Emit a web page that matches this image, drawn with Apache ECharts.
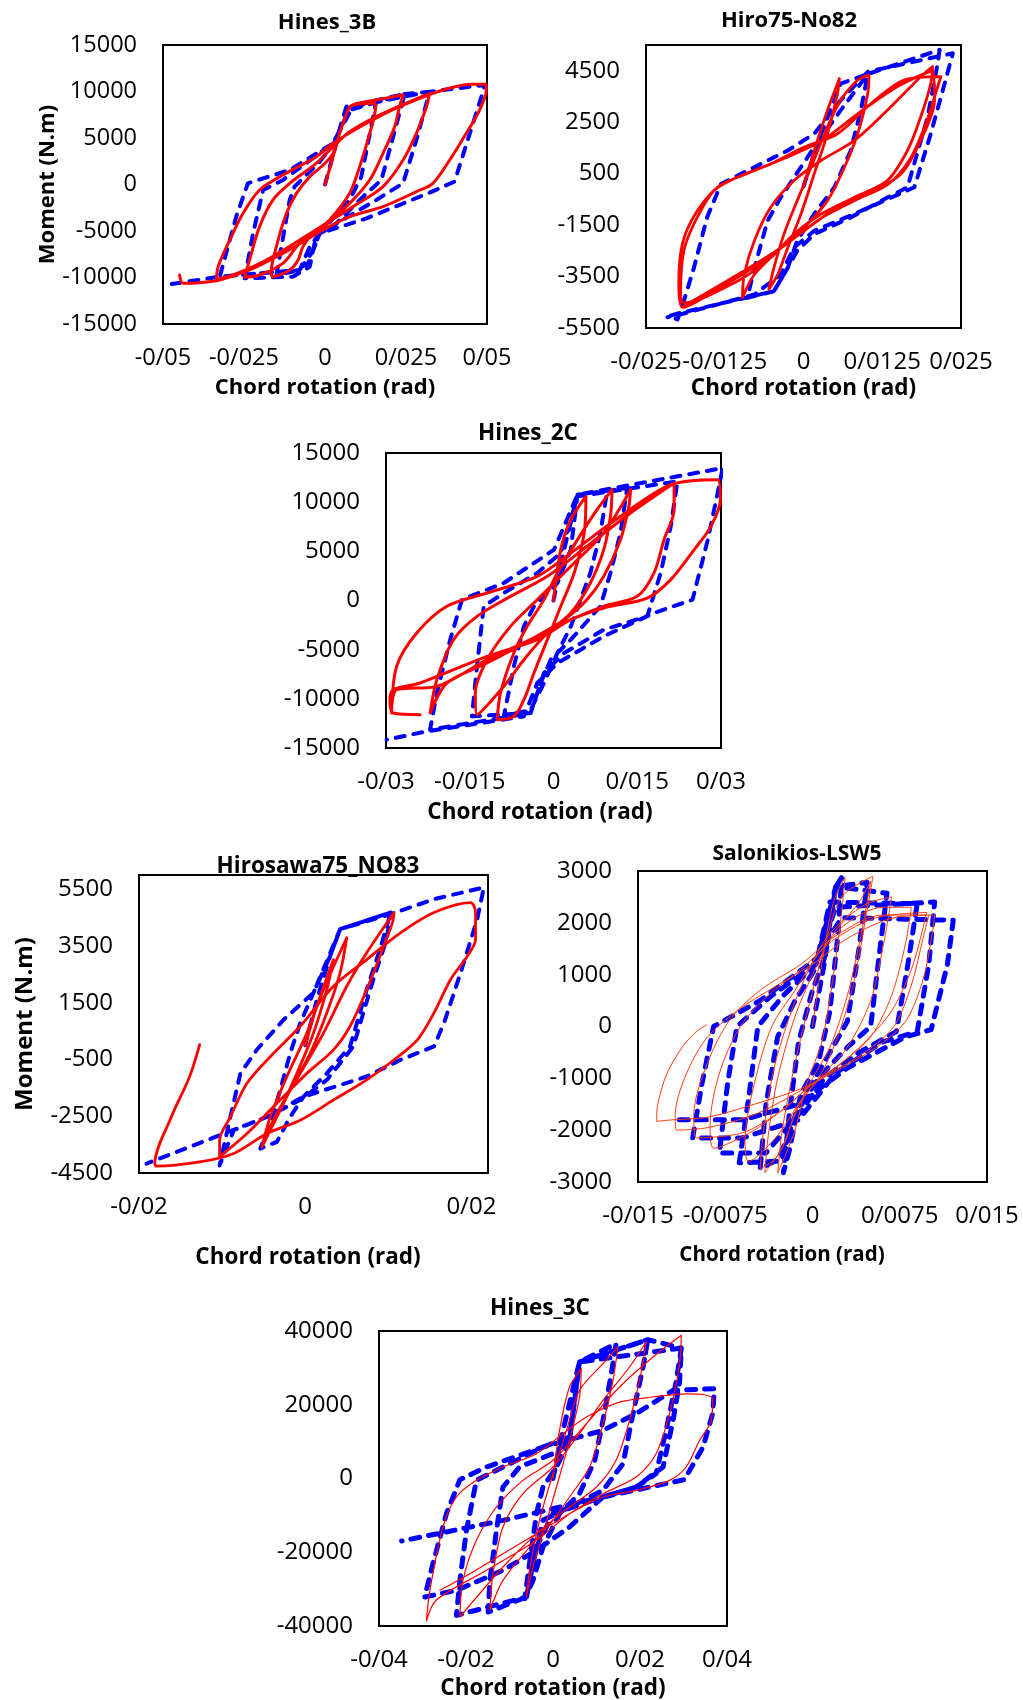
<!DOCTYPE html>
<html><head><meta charset="utf-8">
<script src="https://cdn.jsdelivr.net/npm/echarts@6/dist/echarts.min.js"></script>
<style>html,body{margin:0;padding:0;background:#fff}#c{width:1023px;height:1700px}</style>
</head><body><div id="c"></div>
<script>
const FONT = 'Open Sans';
const xAxisTitle = 'Chord rotation (rad)';
const yAxisTitle = 'Moment (N.m)';
const titles = ['Hines_3B', 'Hiro75-No82', 'Hines_2C', 'Hirosawa75_NO83', 'Salonikios-LSW5', 'Hines_3C'];

// axis ranges [min, max, interval]
const xRanges = [[-0.05, 0.05, 0.025], [-0.025, 0.025, 0.0125], [-0.03, 0.03, 0.015], [-0.02, 0.022, 0.02], [-0.015, 0.015, 0.0075], [-0.04, 0.04, 0.02]];
const yRanges = [[-15000, 15000, 5000], [-5500, 5500, 2000], [-15000, 15000, 5000], [-4500, 6000, 2000], [-3000, 3000, 1000], [-40000, 40000, 20000]];

// ---------- Hines_3B ----------
const hines3B_model = [
[0,0],[0.0066,8370],[0.0158,8900],[0.0112,840],[0.0076,-1670],[-0.0016,-5250],[-0.0052,-8480],[-0.0099,-9370],[-0.0150,-9730],[-0.0109,-1670],[-0.0094,-230],[-0.0016,2460],[0.0035,4790],[0.0066,8370],
[0.0246,9730],[0.0174,480],[0.0128,-950],[0.0025,-4530],[-0.0027,-5430],[-0.0047,-8840],[-0.0099,-9910],[-0.0248,-10090],[-0.0222,-5250],[-0.0191,-590],[-0.0130,480],[0.0025,4430],[0.0076,8010],[0.0246,9730],
[0.0323,9980],[0.0282,4790],[0.0241,130],[0.0158,-1670],[-0.0016,-5250],[-0.0042,-7400],[-0.0078,-9190],[-0.0325,-9910],[-0.0274,-3460],[-0.0238,130],[-0.0109,1560],[0.0025,4430],[0.0086,8370],[0.0323,9980],
[0.0493,10700],[0.0483,9440],[0.0447,5500],[0.0400,310],[0.0323,-880],[0.0128,-3640],[-0.0016,-5250],[-0.0047,-6680],[-0.0078,-9190],[-0.0325,-9910],[-0.0493,-10810]
];
const hines3B_test = [
[0,0],[0.0025,2990],[0.0045,5500],[0.0071,8010],[0.0086,8550],[0.0153,8730],[0.0156,8370],[0.0138,5500],[0.0107,1920],[0.0076,-950],[0.0014,-3820],[-0.0037,-5250],[-0.0068,-6680],[-0.0083,-8120],[-0.0109,-9190],[-0.0161,-9910],[-0.0166,-9370],[-0.0150,-6680],[-0.0119,-3100],[-0.0088,-950],[-0.0047,840],[0,2280],[0.0025,3350],[0.0045,5500],[0.0071,8010],[0.0086,8550],
[0.0158,9090],[0.0241,9620],[0.0230,8370],[0.0215,6220],[0.0179,3350],[0.0138,480],[0.0076,-2030],[-0.0016,-4890],[-0.0078,-6330],[-0.0130,-8480],[-0.0202,-9730],[-0.0248,-9980],[-0.0233,-8120],[-0.0202,-4530],[-0.0161,-1670],[-0.0109,130],[-0.0027,2280],[0.0025,4070],[0.0076,5680],[0.0179,7650],[0.0323,9800],
[0.0313,8370],[0.0282,5500],[0.0241,2630],[0.0179,-230],[0.0086,-2380],[0.0004,-4180],[-0.0078,-5970],[-0.0181,-8120],[-0.0284,-9730],[-0.0335,-10200],[-0.0330,-8840],[-0.0294,-5970],[-0.0253,-3100],[-0.0202,-590],[-0.0130,1020],[-0.0027,2990],[0.0025,4430],[0.0128,6580],[0.0230,8370],[0.0364,10160],[0.0457,10770],[0.0496,10770],
[0.0498,10160],[0.0477,8010],[0.0436,5500],[0.0385,2630],[0.0333,130],[0.0282,-770],[0.0179,-2380],[0.0076,-3460],[-0.0006,-4890],[-0.0058,-5970],[-0.0130,-7400],[-0.0233,-9190],[-0.0325,-10270],[-0.0387,-10560],[-0.0438,-10630],[-0.0449,-9730]
];

// ---------- Hiro75-No82 ----------
const hiro82_model = [
[0,0],[0.0028,2050],[0.0059,4000],[0.0102,4370],[0.0091,2960],[0.0075,1400],[0.0049,-30],[0.0017,-1070],[-0.0010,-2110],[-0.0025,-3160],[-0.0047,-4070],[-0.0089,-4330],[-0.0078,-3160],[-0.0057,-1330],[-0.0036,-420],[0.0017,1530],[0.0059,2960],[0.0102,4370],
[0.0216,5310],[0.0213,4790],[0.0197,2700],[0.0165,-30],[0.0134,-420],[0.0075,-1200],[0.0017,-1850],[-0.0010,-2500],[-0.0025,-3160],[-0.0047,-4070],[-0.0195,-4910],[-0.0214,-5040],[-0.0200,-5170],[-0.0190,-4460],[-0.0174,-3160],[-0.0153,-1200],[-0.0131,100],[-0.0078,750],[-0.0025,1400],[0.0017,2050],[0.0059,3350],[0.0102,4460],[0.0237,5180],
[0.0224,4000],[0.0202,2050],[0.0176,-30],[0.0134,-490],[0.0080,-1070],[0.0017,-1720],[-0.0015,-2370],[-0.0036,-3420],[-0.0078,-4200],[-0.0206,-5040],[-0.0216,-5080]
];
const hiro82_test = [
[0,0],[0.0017,1400],[0.0038,2960],[0.0057,4200],[0.0054,3620],[0.0038,2050],[0.0017,490],[-0.0004,-1070],[-0.0025,-2380],[-0.0041,-3420],[-0.0055,-4000],[-0.0047,-3160],[-0.0031,-1850],[-0.0010,-550],[0.0012,750],[0.0038,2310],[0.0059,3350],[0.0086,4140],[0.0104,4330],[0.0102,3620],[0.0086,2050],[0.0065,750],[0.0038,-550],[0.0001,-1590],[-0.0041,-2510],[-0.0078,-3420],[-0.0097,-4330],[-0.0094,-3420],[-0.0078,-2110],[-0.0052,-810],[-0.0015,230],[0.0028,1010],[0.0081,1790],[0.0133,2960],[0.0186,4270],[0.0205,4660],
[0.0202,4000],[0.0186,2700],[0.0165,1400],[0.0133,230],[0.0081,-420],[0.0028,-1070],[-0.0015,-1850],[-0.0052,-2770],[-0.0105,-3680],[-0.0190,-4520],[-0.0195,-4070],[-0.0190,-2510],[-0.0174,-1460],[-0.0142,-160],[-0.0105,360],[-0.0052,880],[0.0001,1530],[0.0054,2050],[0.0107,3220],[0.0160,4140],[0.0218,4270],
[0.0212,3800],[0.0195,2500],[0.0170,1100],[0.0135,100],[0.0085,-500],[0.0030,-1200],[-0.0020,-2100],[-0.0070,-3000],[-0.0130,-3900],[-0.0192,-4700],[-0.0198,-3800],[-0.0192,-2200],[-0.0170,-1000],[-0.0135,0],[-0.0090,500],[-0.0030,1100],[0.0030,1800],[0.0090,2900],[0.0150,3900],[0.0205,4500],
[0.0208,3350],[0.0186,1790],[0.0155,490],[0.0107,-230],[0.0054,-810],[0.0001,-1720],[-0.0052,-2640],[-0.0131,-3810],[-0.0190,-4650]
];

// ---------- Hines_2C ----------
const hines2C_model = [
[0,0],[0.0019,5170],[0.0043,10760],[0.0096,11100],[0.0084,6870],[0.0066,2800],[0.0031,-2630],[0.0007,-5340],[-0.0017,-8390],[-0.0041,-11100],[-0.0089,-11780],[-0.0071,-6700],[-0.0053,-2630],[-0.0035,-590],[0.0007,1780],[0.0031,5170],[0.0043,10760],
[0.0132,11440],[0.0120,6870],[0.0102,2800],[0.0084,-590],[0.0031,-3980],[-0.0005,-6020],[-0.0023,-8390],[-0.0041,-11440],[-0.0146,-11780],[-0.0137,-6700],[-0.0125,-590],[-0.0089,760],[-0.0029,2800],[0.0013,4830],[0.0043,10590],[0.0222,12120],
[0.0210,7540],[0.0192,2800],[0.0168,-1610],[0.0090,-2970],[0.0019,-5340],[-0.0017,-7370],[-0.0041,-11440],[-0.0221,-13140],[-0.0209,-9410],[-0.0185,-3980],[-0.0164,80],[-0.0089,1780],[0.0001,5170],[0.0043,10760],[0.0303,13470],
[0.0294,10930],[0.0276,6100],[0.0249,80],[0.0180,-1270],[0.0090,-3640],[0.0007,-6360],[-0.0029,-8390],[-0.0053,-11780],[-0.0227,-13310],[-0.0299,-14150]
];
const hines2C_test = [
[0,0],[0.0013,5170],[0.0031,8220],[0.0058,10590],[0.0055,6870],[0.0037,2800],[0.0013,-590],[-0.0011,-3980],[-0.0035,-7370],[-0.0053,-10090],[-0.0071,-11780],[-0.0101,-12120],[-0.0095,-9410],[-0.0071,-5340],[-0.0047,-2630],[-0.0017,90],[0.0007,2800],[0.0043,6190],[0.0078,9240],[0.0105,11270],[0.0102,8560],[0.0090,5170],[0.0066,1780],[0.0031,-1270],[-0.0011,-3310],[-0.0053,-6020],[-0.0089,-8730],[-0.0137,-11610],[-0.0140,-9410],[-0.0119,-6020],[-0.0077,-2630],[-0.0029,90],[0.0031,3480],[0.0090,6870],[0.0138,11270],
[0.0135,9580],[0.0120,6190],[0.0090,2460],[0.0060,90],[0.0019,-1950],[-0.0041,-3980],[-0.0119,-6360],[-0.0191,-8390],[-0.0221,-11440],[-0.0209,-8050],[-0.0179,-3980],[-0.0137,-1610],[-0.0077,420],[-0.0011,2460],[0.0060,5510],[0.0138,8900],[0.0216,11950],[0.0216,9240],[0.0198,6190],[0.0180,2800],[0.0150,420],[0.0090,-590],[0.0031,-1950],[-0.0029,-3640],[-0.0119,-6020],[-0.0209,-8730],[-0.0281,-9070],[-0.0290,-11440],[-0.0281,-6700],[-0.0245,-3310],[-0.0191,-590],[-0.0119,760],[-0.0029,2460],[0.0031,4830],[0.0120,8560],[0.0210,11780],[0.0294,12290],
[0.0299,10260],[0.0282,7540],[0.0252,5170],[0.0210,2120],[0.0168,250],[0.0090,-760],[0.0031,-1950],[-0.0029,-3980],[-0.0119,-5680],[-0.0239,-8390],[-0.0287,-9070],[-0.0293,-10090],[-0.0287,-11440],[-0.0239,-11610]
];

// ---------- Hirosawa75_NO83 ----------
const hiro83_model = [
[0,0],[0.0014,1610],[0.0030,3140],[0.0042,4090],[0.0103,4680],[0.0090,3380],[0.0074,1960],[0.0054,-40],[0.0026,-990],[-0.0002,-1810],[-0.0018,-2520],[-0.0034,-3400],[-0.0054,-3640],[-0.0042,-2750],[-0.0030,-1570],[-0.0018,-280],[-0.0006,780],[0.0010,1850],[0.0030,3140],[0.0042,4090],[0.0103,4680],[0.0098,3730],[0.0082,2320],[0.0058,-40],[0.0026,-1220],[-0.0006,-1930],[-0.0046,-2520],[-0.0086,-2990],[-0.0103,-4230],[-0.0090,-2520],[-0.0078,-990],[-0.0058,-150],[-0.0026,900],[0.0010,1850],[0.0042,4090],[0.0103,4620],[0.0155,5150],[0.0215,5560],[0.0207,4440],[0.0187,2550],[0.0167,780],[0.0155,-40],[0.0115,-510],[0.0074,-1100],[-0.0002,-1810],[-0.0046,-2520],[-0.0191,-4170]
];
const hiro83_test = [
[0,0],[0.0014,1370],[0.0034,3020],[0.0026,1960],[0.0010,430],[-0.0010,-990],[-0.0030,-2280],[-0.0052,-3580],[-0.0042,-2520],[-0.0022,-1100],[0.0002,430],[0.0022,1960],[0.0050,3790],[0.0042,2550],[0.0026,1140],[0.0006,-280],[-0.0018,-1570],[-0.0038,-2750],[-0.0050,-3340],[-0.0034,-2400],[-0.0006,-990],[0.0022,430],[0.0050,2080],[0.0074,3260],[0.0107,4680],[0.0105,4320],[0.0090,3140],[0.0074,1960],[0.0054,670],[0.0034,-160],[0.0002,-990],[-0.0038,-2160],[-0.0070,-3110],[-0.0103,-3930],[-0.0103,-3340],[-0.0090,-2520],[-0.0070,-1340],[-0.0038,-280],[-0.0006,670],[0.0034,2080],[0.0074,3020],[0.0115,3970],[0.0155,4680],[0.0199,5030],[0.0205,4680],[0.0205,3730],[0.0195,3140],[0.0175,2320],[0.0155,1140],[0.0135,190],[0.0107,-510],[0.0074,-1220],[0.0034,-1930],[-0.0006,-2640],[-0.0046,-3110],[-0.0086,-3810],[-0.0127,-4110],[-0.0179,-4260],[-0.0181,-4170],[-0.0161,-2520],[-0.0139,-1100],[-0.0127,20]
];

// ---------- Salonikios-LSW5 ----------
const lsw5_model = [
[0,0],[0.0010,1200],[0.0020,2700],[0.0025,2870],[0.0022,1800],[0.0015,300],[0.0005,-700],[-0.0010,-1300],[-0.0020,-2400],[-0.0025,-2820],[-0.0020,-1700],[-0.0012,-300],[0,700],[0.0010,1300],
[0.0020,2700],[0.0047,2780],[0.0040,1500],[0.0030,100],[0.0015,-500],[0.0002,-1000],[-0.0012,-1500],[-0.0025,-2500],[-0.0045,-2750],[-0.0040,-1500],[-0.0030,-200],[-0.0015,500],[0.0002,1100],[0.0020,2700],
[0.0064,2570],[0.0058,1500],[0.0050,0],[0.0030,-400],[0.0005,-1000],[-0.0012,-1600],[-0.0030,-2600],[-0.0063,-2630],[-0.0055,-1400],[-0.0047,0],[-0.0025,600],[0.0003,1200],[0.0015,2400],
[0.0090,2370],[0.0082,1200],[0.0072,-100],[0.0040,-500],[0.0010,-1000],[-0.0012,-1700],[-0.0040,-2440],[-0.0080,-2440],[-0.0073,-1100],[-0.0065,0],[-0.0035,600],[0.0003,1200],[0.0020,2300],
[0.0105,2400],[0.0100,1200],[0.0090,-100],[0.0060,-300],[0.0020,-900],[-0.0012,-1800],[-0.0060,-2150],[-0.0103,-2150],[-0.0095,-1100],[-0.0085,0],[-0.0045,500],[0.0003,1300],[0.0025,2100],
[0.0121,2050],[0.0116,1200],[0.0102,-60],[0.0080,-200],[0.0030,-800],[-0.0012,-1500],[-0.0060,-1800],[-0.0117,-1800]
];
const lsw5_test = [
[0,0],[0.0008,1200],[0.0018,2400],[0.0028,2880],[0.0025,2200],[0.0018,1000],[0.0008,-300],[-0.0005,-1100],[-0.0015,-2000],[-0.0030,-2830],[-0.0026,-2000],[-0.0015,-700],[-0.0002,500],[0.0010,1500],[0.0025,2500],[0.0052,2900],
[0.0045,2000],[0.0035,800],[0.0020,-300],[0.0005,-1000],[-0.0012,-1500],[-0.0025,-2300],[-0.0041,-2820],[-0.0038,-2100],[-0.0030,-1000],[-0.0015,200],[0,1000],[0.0015,1700],[0.0040,2400],[0.0050,2800],
[0.0042,1800],[0.0030,600],[0.0015,-400],[0,-1000],[-0.0015,-1700],[-0.0030,-2500],[-0.0045,-2750],[-0.0042,-2000],[-0.0033,-800],[-0.0018,300],[-0.0003,1100],[0.0015,1800],[0.0045,2350],[0.0068,2500],
[0.0062,1700],[0.0050,500],[0.0030,-400],[0.0010,-900],[-0.0012,-1500],[-0.0030,-2100],[-0.0055,-2600],[-0.0058,-2200],[-0.0050,-1100],[-0.0035,0],[-0.0015,700],[0.0005,1400],[0.0030,2000],[0.0060,2300],[0.0085,2300],
[0.0080,1600],[0.0068,600],[0.0050,-200],[0.0025,-700],[0,-1100],[-0.0020,-1500],[-0.0050,-2000],[-0.0085,-2350],[-0.0088,-1900],[-0.0080,-900],[-0.0062,0],[-0.0038,600],[-0.0010,1100],[0.0020,1700],[0.0055,2100],[0.0098,2200],
[0.0095,1900],[0.0085,1100],[0.0068,300],[0.0045,-300],[0.0020,-800],[-0.0005,-1200],[-0.0025,-1600],[-0.0060,-2050],[-0.0100,-2150],[-0.0102,-1700],[-0.0092,-800],[-0.0072,100],[-0.0045,700],[-0.0010,1200],[0.0020,1750],[0.0060,2150],[0.0100,2150],
[0.0095,1700],[0.0085,800],[0.0070,0],[0.0045,-500],[0.0015,-900],[-0.0015,-1300],[-0.0050,-1700],[-0.0090,-1950],[-0.0117,-2000],[-0.0118,-1700],[-0.0110,-1000],[-0.0092,-250],[-0.0065,300],[-0.0030,800],[0,1200],[0.0030,1700],[0.0070,2100],[0.0105,2150],
[0.0103,1800],[0.0095,900],[0.0080,100],[0.0055,-400],[0.0025,-800],[-0.0010,-1200],[-0.0050,-1500],[-0.0090,-1750],[-0.0120,-1800],[-0.0134,-1830],[-0.0133,-1500],[-0.0125,-900],[-0.0112,-400],[-0.0100,-100],[-0.0091,30]
];

// ---------- Hines_3C ----------
const hines3C_model = [
[0,0],[0.0023,13060],[0.0061,31600],[0.0145,36570],[0.0134,28430],[0.0115,15770],[0.0096,4930],[0.0061,-4110],[0.0015,-9540],[-0.0023,-18580],[-0.0046,-27620],[-0.0065,-32590],[-0.0054,-23100],[-0.0038,-9540],[-0.0023,-2310],[0.0008,3120],[0.0038,10350],[0.0061,31600],
[0.0218,37650],[0.0207,30240],[0.0184,17580],[0.0161,4020],[0.0115,-3210],[0.0038,-7730],[-0.0023,-11350],[-0.0046,-23100],[-0.0061,-32140],[-0.0149,-36210],[-0.0145,-27620],[-0.0130,-14060],[-0.0115,-2310],[-0.0077,3120],[0,6740],[0.0038,10350],[0.0061,31600],[0.0218,37650],
[0.0295,35370],[0.0283,26170],[0.0260,13060],[0.0237,1310],[0.0191,-2310],[0.0115,-5020],[0,-9540],[-0.0038,-18580],[-0.0061,-32140],[-0.0222,-37110],[-0.0214,-27620],[-0.0199,-14060],[-0.0176,-500],[-0.0115,3120],[-0.0023,8540],[0.0038,11250],[0.0061,31600],[0.0295,35370],
[0.0291,26170],[0.0276,15770],[0.0253,3120],[0.0191,-2310],[0.0115,-5020],[0.0038,-13150],[-0.0038,-19480],[-0.0115,-24900],[-0.0222,-30330],[-0.0295,-32140],[-0.0276,-23100],[-0.0245,-9540],[-0.0214,-320],[-0.0153,3120],[-0.0023,8540],[0.0115,13060],[0.0191,17580],[0.0276,23910],[0.0371,24360],
[0.0367,17580],[0.0345,8540],[0.0302,-320],[0.0115,-5020],[-0.0115,-11350],[-0.0348,-16950]
];
const hines3C_test = [
[0,0],[0.0015,13060],[0.0038,24810],[0.0065,29780],[0.0061,22100],[0.0038,10350],[0.0008,-2310],[-0.0023,-14960],[-0.0046,-24000],[-0.0061,-32140],[-0.0054,-24900],[-0.0031,-11350],[0,1310],[0.0031,13060],[0.0061,23910],[0.0115,31150],[0.0149,35670],[0.0138,26620],[0.0115,14870],[0.0084,3120],[0.0038,-5020],[0,-11350],[-0.0054,-18580],[-0.0115,-27620],[-0.0145,-35760],[-0.0138,-25810],[-0.0115,-13150],[-0.0069,-4110],[0,3120],[0.0061,12150],[0.0115,21200],[0.0176,30240],[0.0214,37020],[0.0199,26620],[0.0176,15770],[0.0145,4930],[0.0100,-2310],[0.0038,-7730],[-0.0038,-14960],[-0.0115,-24000],[-0.0214,-37560],[-0.0207,-27620],[-0.0176,-16770],[-0.0130,-7730],[-0.0069,-500],[0,4930],[0.0077,14870],[0.0153,24810],[0.0230,32950],[0.0295,38830],[0.0291,31150],[0.0268,17580],[0.0237,6730],[0.0191,410],[0.0115,-4110],[0.0038,-9540],[-0.0038,-16770],[-0.0153,-24900],[-0.0268,-32950],[-0.0291,-38650],[-0.0283,-30330],[-0.0253,-13150],[-0.0222,-5020],[-0.0176,-500],[-0.0115,3120],[-0.0038,6730],[0.0023,12150],[0.0077,16680],[0.0153,20700],[0.0230,22100],[0.0306,22960],[0.0367,21610],[0.0364,15770],[0.0337,10350],[0.0306,3120],[0.0268,-500],[0.0191,-3210],[0.0115,-5020],[0.0038,-9540],[-0.0038,-14960],[-0.0115,-20390],[-0.0191,-25810],[-0.0260,-30330]
];

const modelData = [hines3B_model, hiro82_model, hines2C_model, hiro83_model, lsw5_model, hines3C_model];
const testData = [hines3B_test, hiro82_test, hines2C_test, hiro83_test, lsw5_test, hines3C_test];

// ---------- layout & style (not data) ----------
const layout = [
  {grid:{left:163,top:45,width:324,height:279}, title:[327,22], tSize:22, lSize:23.5, nSize:22, xGap:53, xPad:0, yName:true, yGap:102, yNSize:22, hideMaxX:false, hideMaxY:false, red:'#ff0000', rw:3, bw:4},
  {grid:{left:646,top:45,width:315,height:283}, title:[789,20], tSize:22, lSize:24, nSize:22.5, xGap:49, xPad:0, yName:false, hideMaxX:false, hideMaxY:true, red:'#ff0000', rw:2.8, bw:4},
  {grid:{left:386,top:453,width:335,height:295}, title:[528,432], tSize:22.5, lSize:24, nSize:22.5, xGap:53, xPad:27, yName:false, hideMaxX:false, hideMaxY:false, red:'#ff0000', rw:3, bw:4},
  {grid:{left:139,top:875,width:349,height:298}, title:[318,865], tSize:22.5, lSize:24, nSize:22.5, xGap:73, xPad:11, yName:true, yGap:102, yNSize:24, hideMaxX:true, hideMaxY:true, red:'#ff0000', rw:2.8, bw:4},
  {grid:{left:638,top:871,width:349,height:311}, title:[797,853], tSize:21, lSize:24, nSize:20.5, xGap:63, xPad:61, yName:false, hideMaxX:false, hideMaxY:false, red:'#ff3a0a', rw:1, bw:5},
  {grid:{left:379,top:1331,width:348,height:295}, title:[540,1307], tSize:22.5, lSize:24, nSize:22.5, xGap:51, xPad:0, yName:false, hideMaxX:false, hideMaxY:false, red:'#ff0000', rw:1.2, bw:5}
];

const fmtX = v => String(parseFloat(Number(v).toFixed(6))).replace('.', '/');
const fmtY = v => String(parseFloat(Number(v).toFixed(3)));

const option = {
  animation: false,
  backgroundColor: '#fff',
  title: layout.map((L, i) => ({
    text: titles[i], left: L.title[0], top: L.title[1] - L.tSize * 0.68 + 5, textAlign: 'center', padding: 0,
    textStyle: {fontFamily: FONT, fontWeight: 'bold', fontSize: L.tSize, color: '#000'}
  })),
  grid: layout.map(L => Object.assign({show: true, borderColor: '#000', borderWidth: 2, backgroundColor: 'transparent', containLabel: false, outerBoundsMode: 'none'}, L.grid)),
  xAxis: layout.map((L, i) => ({
    type: 'value', gridIndex: i, min: xRanges[i][0], max: xRanges[i][1], interval: xRanges[i][2],
    axisLine: {show: false}, axisTick: {show: false}, splitLine: {show: false},
    axisLabel: {fontFamily: FONT, fontSize: L.lSize, color: '#000', margin: 22, formatter: fmtX, showMaxLabel: !L.hideMaxX, showMinLabel: true},
    name: xAxisTitle, nameLocation: 'middle', nameGap: L.xGap,
    nameTextStyle: {fontFamily: FONT, fontWeight: 'bold', fontSize: L.nSize, color: '#000', padding: [0, L.xPad, 0, 0]}
  })),
  yAxis: layout.map((L, i) => ({
    type: 'value', gridIndex: i, min: yRanges[i][0], max: yRanges[i][1], interval: yRanges[i][2],
    axisLine: {show: false}, axisTick: {show: false}, splitLine: {show: false},
    axisLabel: {fontFamily: FONT, fontSize: L.lSize, color: '#000', margin: 26, formatter: fmtY, showMaxLabel: !L.hideMaxY, showMinLabel: true},
    name: L.yName ? yAxisTitle : '', nameLocation: 'middle', nameGap: L.yGap || 0, nameRotate: 90,
    nameTextStyle: {fontFamily: FONT, fontWeight: 'bold', fontSize: L.yNSize || 22, color: '#000'}
  })),
  series: []
};

layout.forEach((L, i) => {
  option.series.push({
    type: 'line', name: 'model', xAxisIndex: i, yAxisIndex: i, data: modelData[i],
    showSymbol: false, symbol: 'none', clip: false, smooth: false,
    lineStyle: {color: '#0000ff', width: L.bw, type: [9, 9], cap: 'round', join: 'round'}, z: 2
  });
  option.series.push({
    type: 'line', name: 'test', xAxisIndex: i, yAxisIndex: i, data: testData[i],
    showSymbol: false, symbol: 'none', clip: false, smooth: 0.3,
    lineStyle: {color: L.red, width: L.rw, cap: 'round', join: 'round'}, z: 3
  });
});

const chart = echarts.init(document.getElementById('c'), null, {renderer: 'canvas', width: 1023, height: 1700});
chart.setOption(option);
</script>
</body></html>
